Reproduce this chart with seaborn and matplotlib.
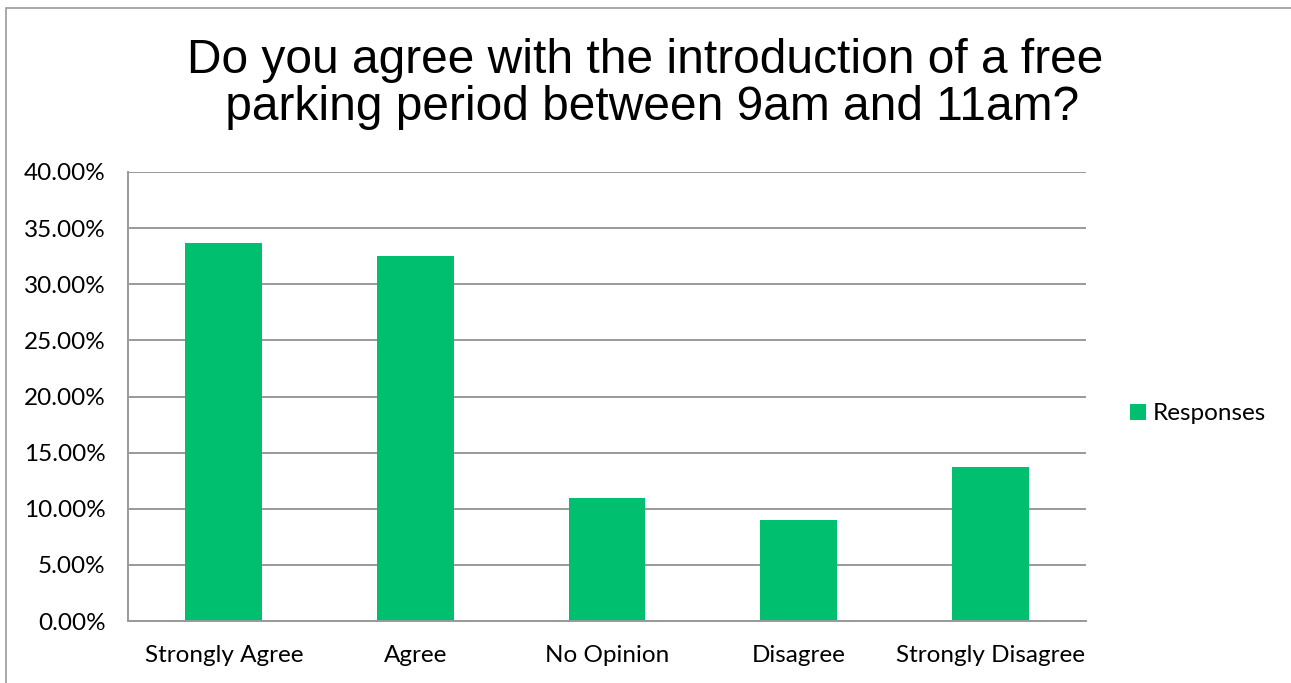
import matplotlib
matplotlib.use("Agg")
import matplotlib.pyplot as plt
import seaborn as sns
import pandas as pd
from matplotlib.ticker import FuncFormatter, FixedLocator
from matplotlib.patches import Rectangle, Patch

categories = ["Strongly Agree", "Agree", "No Opinion", "Disagree", "Strongly Disagree"]
responses = [33.7, 32.5, 11.0, 9.0, 13.7]
series_name = "Responses"
title = "Do you agree with the introduction of a free\n parking period between 9am and 11am?"

df = pd.DataFrame({"category": categories, "value": responses})

sns.set_style("white")
plt.rcParams["font.family"] = ["Lato", "DejaVu Sans"]
plt.rcParams["text.color"] = "black"

fig = plt.figure(figsize=(12.91, 6.83), dpi=100)
ax = fig.add_axes([128/1291, 1 - 621/683, (1086-128)/1291, (621-172)/683])

green = "#00BF6F"
sns.barplot(data=df, x="category", y="value", color=green, width=0.4, ax=ax,
            saturation=1, edgecolor="none")

ax.set_ylim(0, 40)
ax.set_xlim(-0.5, len(categories) - 0.5)
ax.set_yticks(range(0, 41, 5))
ax.yaxis.set_major_formatter(FuncFormatter(lambda v, p: f"{v:.2f}%"))
ax.yaxis.grid(True, color="#999999", linewidth=1.4)
ax.set_axisbelow(True)
ax.set_xlabel("")
ax.set_ylabel("")

for s in ["top", "right"]:
    ax.spines[s].set_visible(False)
for s in ["left", "bottom"]:
    ax.spines[s].set_color("#999999")
    ax.spines[s].set_linewidth(1.4)

ax.tick_params(axis="y", length=8, width=1.4, color="#999999", labelsize=17.5, pad=8, labelcolor="black")
ax.xaxis.set_major_locator(FixedLocator([i - 0.5 for i in range(len(categories) + 1)]))
ax.xaxis.set_minor_locator(FixedLocator(list(range(len(categories)))))
ax.xaxis.set_minor_formatter(FuncFormatter(lambda v, p: categories[int(round(v))]))
ax.xaxis.set_major_formatter(FuncFormatter(lambda v, p: ""))
ax.tick_params(axis="x", which="major", length=8, width=1.4, color="#999999", direction="out")
ax.tick_params(axis="x", which="minor", length=0, labelsize=17.5, pad=17, labelcolor="black")

fig.text(0.5, 1 - 84/683, title, ha="center", va="center", color="black",
         fontsize=34.5, family=["Liberation Sans", "DejaVu Sans"], linespacing=1.08)

handles = [Patch(facecolor=green, edgecolor="none", label=series_name)]
fig.legend(handles=handles, loc="center left", bbox_to_anchor=(1108/1291, 1 - 414/683),
           frameon=False, fontsize=17.5, handlelength=0.65, handleheight=0.65, handletextpad=0.3,
           labelcolor="black")

fig.patches.append(Rectangle((6/1291, -0.01), 1.0, 1 - 8/683 + 0.01, transform=fig.transFigure,
                             fill=False, edgecolor="#999999", linewidth=1.2))

fig.savefig("out.png", dpi=100)
